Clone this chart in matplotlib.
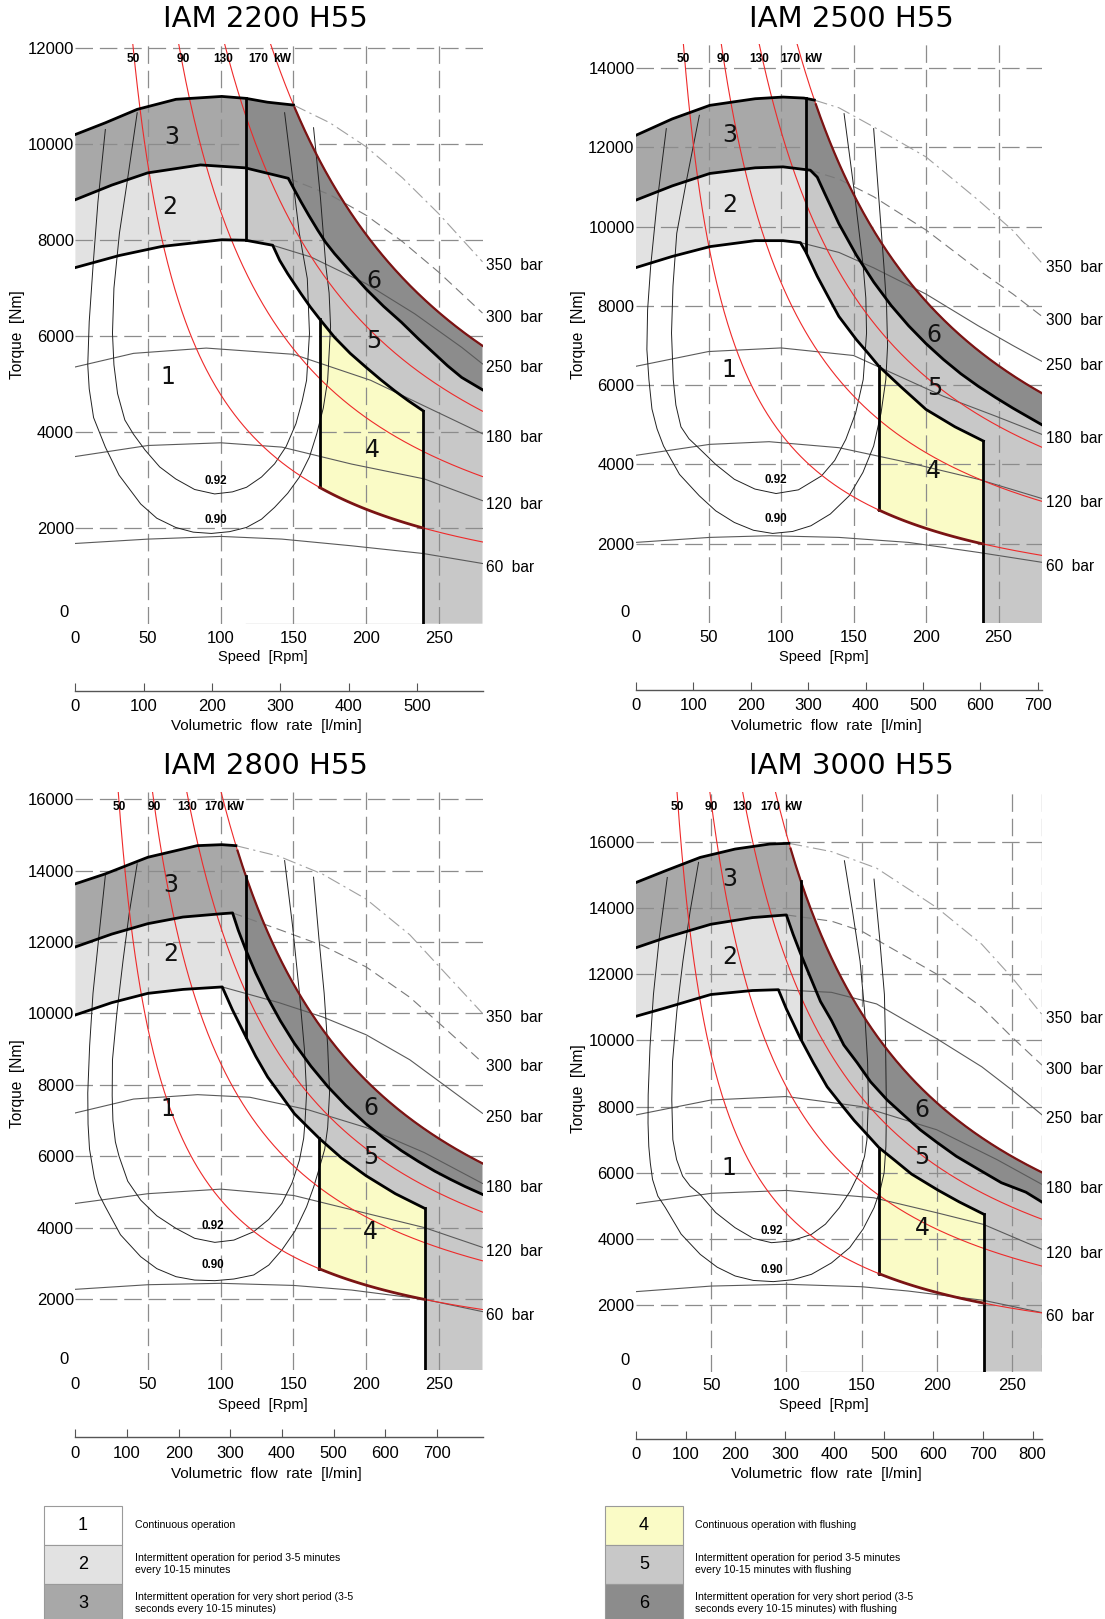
import numpy as np
import matplotlib
matplotlib.use("Agg")
import matplotlib.pyplot as plt
from matplotlib.patches import Polygon, Rectangle

# ---------------- chart data (speed in rpm, torque in Nm) ----------------
MODELS = ["IAM 2200 H55", "IAM 2500 H55", "IAM 2800 H55", "IAM 3000 H55"]
SPEED_MAX = [280, 280, 280, 270]
TORQUE_MAX = [12100, 14600, 16200, 17500]
TORQUE_TICKS = [[2000, 4000, 6000, 8000, 10000, 12000],
                [2000, 4000, 6000, 8000, 10000, 12000, 14000],
                [2000, 4000, 6000, 8000, 10000, 12000, 14000, 16000],
                [2000, 4000, 6000, 8000, 10000, 12000, 14000, 16000]]
SPEED_TICKS = [0, 50, 100, 150, 200, 250]
FLOW_PER_REV = [2.127, 2.527, 2.816, 3.033]
FLOW_TICKS = [[0, 100, 200, 300, 400, 500],
              [0, 100, 200, 300, 400, 500, 600, 700],
              [0, 100, 200, 300, 400, 500, 600, 700],
              [0, 100, 200, 300, 400, 500, 600, 700, 800]]
POWER_KW = [50, 90, 130, 170]
PRESSURES = [350, 300, 250, 180, 120, 60]

SPLIT_RPM = [117.2, 117.0, 117.3, 109.5]   # border 2|3 against 5|6
FLUSH_RPM = [167.9, 167.5, 167.7, 161.6]   # left edge of area 4
LIMIT_RPM = [239.2, 239.6, 240.3, 231.5]   # right edge of area 4

# IAM 2200 H55
CONT_2200 = [(0, 7430), (30, 7680), (59.4, 7870), (100.7, 8010), (117, 8000), (135.7, 7895),
             (140.5, 7580), (146, 7302), (155.2, 6883), (161.5, 6610), (167.9, 6360), (178.2, 5975),
             (189, 5640), (200, 5347), (210, 5090), (219.6, 4859), (229, 4650), (239.2, 4440)]
INT_2200 = [(0, 8846), (25, 9150), (49.7, 9405), (86, 9571), (116.8, 9510), (146.4, 9292),
            (150.5, 9060), (155.2, 8800), (160.5, 8520), (166.7, 8209), (172, 7960), (178.2, 7721),
            (189, 7350), (200, 6980), (212, 6620), (224.2, 6290), (236, 5940), (247.2, 5627),
            (256, 5380), (265.7, 5137), (280, 4880)]
PEAK_2200 = [(0, 10206), (20.6, 10450), (42.5, 10730), (69.2, 10940), (100.7, 11000),
             (117.2, 10960), (132, 10880), (150, 10820)]
BAR_2200 = {
    350: [(150, 10820), (175, 10450), (200, 9950), (225, 9300), (250, 8550), (280, 7550)],
    300: [(146.4, 9292), (175, 8950), (200, 8520), (225, 7970), (250, 7330), (280, 6480)],
    250: [(135.7, 7895), (162, 7650), (200, 7093), (233.4, 6465), (265.7, 5765), (280, 5420)],
    180: [(0, 5357), (40, 5640), (90, 5750), (150, 5620), (203, 5079), (239, 4556), (280, 3963)],
    120: [(0, 3488), (50, 3718), (100, 3774), (142, 3684), (190, 3330), (240, 3020), (280, 2567)],
    60: [(0, 1674), (50, 1765), (100, 1821), (142, 1765), (190, 1625), (239, 1465), (280, 1256)],
}
EFF92_2200 = [(42.5, 10660), (36, 9300), (30.3, 8150), (26.5, 7000), (25.5, 6060), (26.5, 5400),
              (29, 4800), (34, 4250), (40, 3950), (48, 3620), (58, 3270), (69, 3020), (82, 2800),
              (95.8, 2707), (108, 2750), (117.7, 2846), (128, 3060), (137, 3335), (145, 3700),
              (151.7, 4172), (156, 4650), (159, 5078), (161, 6056), (159.5, 7200), (154, 8149),
              (149, 9400), (143.9, 10660)]
EFF90_2200 = [(20.6, 10310), (15.5, 8800), (12.1, 7450), (9.5, 6300), (8.5, 5400), (9.5, 4900),
              (12.5, 4300), (20.6, 3683), (30, 3100), (44.9, 2498), (56, 2200), (69, 2008),
              (81, 1910), (93.5, 1883), (106, 1920), (117.7, 2008), (128, 2180), (137, 2427),
              (146, 2720), (154, 3055), (161, 3480), (166, 3963), (170.5, 4500), (173.5, 5078),
              (175.5, 6200), (174.5, 6900), (172.3, 7450), (168.5, 8900), (163.8, 10347)]

# IAM 2500 H55
CONT_2500 = [(0, 8969), (25, 9250), (50.9, 9497), (82.2, 9648), (101.4, 9648), (113.4, 9598),
             (117, 9371), (125, 8750), (132, 8270), (139.9, 7736), (152, 7150), (160, 6810),
             (167.5, 6478), (183, 5950), (200, 5389), (220, 4950), (239.6, 4591)]
INT_2500 = [(0, 10672), (25, 11030), (50.9, 11343), (82.2, 11486), (101.4, 11510), (120.2, 11426),
            (125, 11250), (130, 10850), (140, 10070), (152, 9280), (164, 8600), (176, 8010),
            (188, 7500), (200, 7050), (212, 6650), (224, 6290), (236, 5975), (248, 5690),
            (260, 5420), (270, 5210), (280, 5000)]
PEAK_2500 = [(0, 12307), (25, 12720), (50.9, 13062), (82.2, 13229), (101.4, 13271),
             (115.8, 13246), (123, 13195)]
BAR_2500 = {
    350: [(123, 13195), (140, 13000), (164, 12516), (200, 11761), (236, 10672), (260, 9900), (280, 9079)],
    300: [(120.2, 11426), (140, 11200), (164, 10755), (200, 9917), (236, 8911), (260, 8300), (280, 7736)],
    250: [(113.4, 9598), (140, 9350), (164, 8960), (200, 8300), (236, 7500), (260, 7000), (280, 6600)],
    180: [(0, 6478), (50, 6850), (100, 6941), (150, 6750), (212, 5720), (248, 5220), (280, 4759)],
    120: [(0, 4231), (50.9, 4508), (91.8, 4575), (139.9, 4424), (187.9, 4047), (236, 3627), (280, 3141)],
    60: [(0, 2034), (50.9, 2160), (91.8, 2202), (139.9, 2160), (187.9, 2034), (236, 1782), (280, 1531)],
}
EFF92_2500 = [(43.7, 12811), (35, 11200), (28.1, 9834), (25.5, 8500), (24.5, 7317), (25.7, 6143),
              (27.5, 5500), (31, 4950), (36.5, 4650), (43.7, 4400), (55, 4000), (67.8, 3627),
              (82, 3380), (96.6, 3267), (112, 3360), (127.9, 3711), (137, 4100), (144.7, 4633),
              (151.5, 5300), (156.7, 6143), (159, 7317), (158.5, 8200), (156.7, 8994),
              (150.5, 10900), (143.5, 12853)]
EFF90_2500 = [(20.9, 12475), (14.5, 10600), (10.1, 8994), (8, 7900), (7.5, 6900), (8.9, 6143),
              (11, 5400), (14.5, 4900), (19, 4466), (30, 3750), (43.7, 3208), (55, 2830),
              (67.8, 2537), (81, 2340), (94.2, 2260), (108, 2310), (120.6, 2453), (134, 2750),
              (147, 3208), (156.5, 3800), (163.9, 4466), (169, 5300), (172.3, 6143), (173.5, 7000),
              (172.8, 8000), (171, 8994), (167.5, 10700), (163.9, 12475)]

# IAM 2800 H55
CONT_2800 = [(0, 9955), (25, 10300), (49.8, 10560), (74, 10671), (101, 10740), (108, 10100),
             (117.3, 9340), (124, 8800), (132.2, 8219), (141, 7730), (150.6, 7192), (159, 6850),
             (167.9, 6492), (183, 5950), (200, 5450), (220, 4950), (240.3, 4537)]
INT_2800 = [(0, 11861), (25, 12220), (49.8, 12512), (74, 12698), (100.7, 12791), (108.1, 12813),
            (112, 12330), (117.3, 11768), (124, 11130), (132.2, 10440), (141, 9790), (150.6, 9160),
            (162, 8520), (173.7, 7945), (186, 7420), (200, 6900), (212, 6510), (224.2, 6155),
            (236, 5850), (247.2, 5580), (258, 5350), (268, 5150), (280, 4930)]
PEAK_2800 = [(0, 13628), (20.6, 13907), (49.8, 14372), (83.7, 14697), (100.7, 14725), (110.4, 14697)]
BAR_2800 = {
    350: [(110.4, 14697), (140, 14400), (170, 13900), (200, 13200), (230, 12200), (255, 11100), (280, 10000)],
    300: [(108.1, 12813), (140, 12350), (170, 11900), (200, 11300), (230, 10450), (255, 9550), (280, 8620)],
    250: [(101, 10740), (140, 10300), (170, 9900), (200, 9400), (230, 8700), (255, 7950), (280, 7200)],
    180: [(0, 7212), (40, 7600), (84, 7723), (120, 7650), (160, 7300), (200, 6800), (240, 6100), (280, 5236)],
    120: [(0, 4676), (50, 4950), (100, 5077), (150, 4900), (190, 4500), (240, 4000), (280, 3446)],
    60: [(0, 2271), (50, 2400), (100, 2439), (150, 2380), (190, 2250), (240, 1990), (280, 1646)],
}
EFF92_2800 = [(42.5, 14190), (37, 12800), (32.8, 11490), (28.5, 10000), (25.5, 8700), (25.3, 7700),
              (25.8, 7000), (27.5, 6400), (30, 6000), (36, 5300), (44.9, 4770), (56, 4330),
              (69.2, 3977), (82, 3700), (95.9, 3586), (109, 3650), (122.6, 3884), (133, 4230),
              (142, 4677), (149, 5250), (154.1, 5889), (157, 6500), (158, 7000), (159, 7770),
              (157.5, 9000), (154.1, 10559), (149.5, 12400), (143.9, 14279)]
EFF90_2800 = [(20.6, 13860), (16, 12100), (12.1, 10560), (9.8, 9100), (8.5, 7770), (8.7, 6900),
              (9.7, 6200), (13, 5400), (16, 4950), (20.6, 4583), (31, 3800), (44.9, 3185),
              (56, 2850), (69.2, 2625), (82, 2530), (95.9, 2513), (109, 2560), (122.6, 2672),
              (133, 2950), (142, 3371), (151, 3900), (159, 4583), (164, 5150), (168, 5700),
              (171.5, 6200), (173.5, 6800), (174.8, 7770), (173.5, 9100), (171.1, 10560),
              (167.5, 12100), (163.8, 13814)]

# IAM 3000 H55
CONT_3000 = [(0, 10727), (19.6, 10980), (49.7, 11384), (77.4, 11505), (94.7, 11530), (100, 10950),
             (109.3, 10061), (118, 9320), (127.1, 8600), (136, 8090), (145.1, 7580), (153, 7190),
             (161.6, 6760), (172, 6380), (183.3, 5960), (200.9, 5475), (215, 5120), (231.5, 4744)]
INT_3000 = [(0, 12798), (19.6, 13101), (49.7, 13505), (77.4, 13707), (100, 13788), (104.5, 13200),
            (109.3, 12636), (116, 11900), (122.7, 11172), (130, 10600), (138.2, 9859), (147, 9330),
            (156, 8748), (167, 8200), (178.2, 7738), (189, 7300), (199.8, 6930), (213, 6500),
            (227.1, 6122), (243, 5700), (259.3, 5415), (270, 5116)]
PEAK_3000 = [(0, 14767), (19.6, 15121), (42.7, 15525), (65.9, 15777), (89, 15929), (101.7, 15950)]
BAR_3000 = {
    350: [(101.7, 15950), (130, 15700), (160, 15200), (200, 14010), (230, 12900), (250, 11900), (270, 10780)],
    300: [(100, 13788), (130, 13600), (150, 13300), (200, 12000), (230, 11000), (250, 10100), (270, 9250)],
    250: [(94.7, 11530), (130, 11450), (160, 11100), (200, 10050), (230, 9200), (250, 8500), (270, 7750)],
    180: [(0, 7748), (50, 8200), (100, 8304), (150, 8000), (200, 7300), (240, 6400), (270, 5650)],
    120: [(0, 5066), (50, 5380), (100, 5468), (158, 5247), (200, 4794), (231, 4443), (270, 3689)],
    60: [(0, 2412), (50, 2580), (100, 2634), (150, 2560), (181, 2430), (231, 2150), (270, 1779)],
}
EFF92_3000 = [(41.6, 15374), (36, 13900), (31.2, 12394), (27.2, 10900), (24.3, 9364), (23.8, 8200),
              (24.5, 7000), (27, 6400), (31, 5900), (36, 5600), (42.7, 5347), (53, 4800),
              (65.9, 4342), (78, 4020), (90.1, 3890), (103, 3940), (116.7, 4141), (126, 4450),
              (135.2, 4945), (142.5, 5450), (149, 6050), (152, 6500), (153.6, 7000), (154.5, 8200),
              (154, 9364), (152, 10900), (149, 12394), (144, 13900), (138.6, 15424)]
EFF90_3000 = [(20.8, 14919), (15.5, 13100), (11.6, 11384), (9.3, 9800), (8.1, 8354), (8, 7500),
              (8.5, 6800), (9.5, 6300), (11, 5800), (14.5, 5300), (19.6, 4945), (30, 4150),
              (42.7, 3538), (54, 3150), (65.9, 2885), (78, 2750), (91.3, 2714), (104, 2770),
              (116.7, 2935), (130, 3280), (142.1, 3739), (151, 4300), (158.3, 4945), (162.5, 5500),
              (165, 6000), (166.2, 6800), (166.4, 7500), (166.4, 8354), (166, 9800), (165.2, 11384),
              (162, 13100), (158.3, 14869)]

LEGEND_LEFT = [("1", "Continuous operation"),
               ("2", "Intermittent operation for period 3-5 minutes\nevery 10-15 minutes"),
               ("3", "Intermittent operation for very short period (3-5\nseconds every 10-15 minutes)")]
LEGEND_RIGHT = [("4", "Continuous operation with flushing"),
                ("5", "Intermittent operation for period 3-5 minutes\nevery 10-15 minutes with flushing"),
                ("6", "Intermittent operation for very short period (3-5\nseconds every 10-15 minutes) with flushing")]

# ---------------- layout (figure pixels) ----------------
W, H = 1105, 1619
AX_BOX = [(75.4, 43.7, 482.5, 623.7), (636, 44.4, 1042, 623),
          (75.4, 792, 482.5, 1370.4), (636, 792, 1042, 1371.5)]
TITLE_XY = [(265, 19), (851, 19), (265, 766), (851, 766)]
TORQUE_LABEL_XY = [(17.5, 335), (579, 335), (17.5, 1084), (578, 1089)]
SPEED_LABEL_XY = [(263, 657), (824, 657), (263, 1404.5), (824, 1404.5)]
FLOW_LABEL_XY = [(266, 726), (826, 726), (266, 1473.6), (826, 1473.6)]
KW_LABEL_RPM = [[39.6, 74, 101.5, 126, 142], [32.8, 59.9, 84.8, 106.2, 121.9],
                [30.5, 54, 76.7, 95.2, 110.1], [27.5, 50.3, 70.9, 89.5, 104.6]]
EFF_LABEL_POS = [(96.6, 2985, 2167), (96.3, 3604, 2615), (94.4, 4053, 2955), (90, 4236, 3052)]
AREA_LABEL_POS = [
    {"3": (66, 10150), "2": (64.6, 8686), "1": (63.9, 5156), "6": (205, 7158), "5": (205, 5890), "4": (204.5, 3630)},
    {"3": (64.9, 12307), "2": (64.9, 10536), "1": (64.2, 6392), "6": (205.2, 7278), "5": (205.9, 5923), "4": (205.2, 3839)},
    {"3": (65.3, 13600), "2": (65.3, 11661), "1": (63.9, 7322), "6": (203, 7353), "5": (203, 5963), "4": (203, 3880)},
    {"3": (62.6, 14876), "2": (62.6, 12505), "1": (61.9, 6139), "6": (190.3, 7888), "5": (190.3, 6483), "4": (190.3, 4329)},
]
EDGE_GRID = [False, False, False, True]

AREA_COLORS = {"1": "white", "2": "#e2e2e2", "3": "#a8a8a8", "4": "#fafbc6", "5": "#c8c8c8", "6": "#8c8c8c"}
RED = "#ee2a2a"
DARKRED = "#7a1414"
GRID = "#8c8c8c"
BAR_STYLE = {350: ("#a0a0a0", (0, (12, 4, 2, 4))), 300: ("#7a7a7a", (0, (9, 5))),
             250: ("#5a5a5a", "-"), 180: ("#5a5a5a", "-"), 120: ("#5a5a5a", "-"), 60: ("#5a5a5a", "-")}

# the drawing uses a narrow technical lettering: Liberation Sans is the closest installed face
TXT_FONT = "Liberation Sans"


def tf(size, **kw):
    d = dict(fontfamily=TXT_FONT, fontsize=size)
    d.update(kw)
    return d


PANELS = [
    dict(cont=CONT_2200, inter=INT_2200, peak=PEAK_2200, bars=BAR_2200, e92=EFF92_2200, e90=EFF90_2200),
    dict(cont=CONT_2500, inter=INT_2500, peak=PEAK_2500, bars=BAR_2500, e92=EFF92_2500, e90=EFF90_2500),
    dict(cont=CONT_2800, inter=INT_2800, peak=PEAK_2800, bars=BAR_2800, e92=EFF92_2800, e90=EFF90_2800),
    dict(cont=CONT_3000, inter=INT_3000, peak=PEAK_3000, bars=BAR_3000, e92=EFF92_3000, e90=EFF90_3000),
]


def torque_at_power(kw, rpm):
    return kw * 60000.0 / (2 * np.pi * rpm)


def xy(points):
    a = np.asarray(points, float)
    return a[:, 0], a[:, 1]


def clip(x, y, a, b):
    m = (x > a) & (x < b)
    return (np.r_[a, x[m], b], np.r_[np.interp(a, x, y), y[m], np.interp(b, x, y)])


def band(ax, upper, lower, a, b, color, z):
    xu, yu = clip(upper[0], upper[1], a, b)
    xl, yl = clip(lower[0], lower[1], a, b)
    verts = np.r_[np.c_[xu, yu], np.c_[xl, yl][::-1]]
    ax.add_patch(Polygon(verts, closed=True, facecolor=color, edgecolor="none", zorder=z))


def px(x, y):
    return x / W, 1 - y / H


fig = plt.figure(figsize=(W / 100, H / 100), dpi=100)

for i, p in enumerate(PANELS):
    l, t, r, b = AX_BOX[i]
    ax = fig.add_axes([l / W, 1 - b / H, (r - l) / W, (b - t) / H])
    xmax, ytop = SPEED_MAX[i], TORQUE_MAX[i]
    ax.set_xlim(0, xmax)
    ax.set_ylim(0, ytop)
    for s in ax.spines.values():
        s.set_visible(False)

    b1 = xy(p["cont"])
    b2 = xy(p["inter"])
    px3, py3 = xy(p["peak"])
    n_peak = np.linspace(px3[-1], xmax, 150)[1:]
    b3 = (np.r_[px3, n_peak], np.r_[py3, torque_at_power(POWER_KW[-1], n_peak)])
    xv, x4, xr = SPLIT_RPM[i], FLUSH_RPM[i], LIMIT_RPM[i]
    n_flush = np.linspace(x4, xr, 80)
    low4 = (n_flush, torque_at_power(POWER_KW[0], n_flush))
    zero = (np.array([0.0, xmax]), np.zeros(2))

    # areas
    band(ax, b2, zero, xv, xmax, AREA_COLORS["5"], 1.0)
    band(ax, b1, zero, 0, xr, AREA_COLORS["1"], 1.1)
    band(ax, b1, low4, x4, xr, AREA_COLORS["4"], 1.2)
    band(ax, b2, b1, 0, xv, AREA_COLORS["2"], 1.2)
    band(ax, b3, b2, 0, xv, AREA_COLORS["3"], 1.2)
    band(ax, b3, b2, xv, xmax, AREA_COLORS["6"], 1.2)

    # grid
    dash = (0, (14, 5.5))
    for x in SPEED_TICKS[1:]:
        ax.axvline(x, color=GRID, lw=0.9, ls=dash, zorder=2)
    if EDGE_GRID[i]:
        ax.axvline(xmax, color=GRID, lw=0.9, ls=dash, zorder=2)
    for y in TORQUE_TICKS[i]:
        ax.axhline(y, color=GRID, lw=0.9, ls=dash, zorder=2)

    # pressure lines
    for bar in PRESSURES:
        bx, by = xy(p["bars"][bar])
        col, ls = BAR_STYLE[bar]
        ax.plot(bx, by, color=col, ls=ls, lw=0.8, zorder=3)
        ax.annotate(f"{bar}  bar", xy=(bx[-1], by[-1]), xytext=(4, -4), textcoords="offset pixels",
                    ha="left", va="center", annotation_clip=False, **tf(11.2))

    # efficiency curves
    for key, lab, ly in (("e92", "0.92", EFF_LABEL_POS[i][1]), ("e90", "0.90", EFF_LABEL_POS[i][2])):
        ex, ey = xy(p[key])
        ax.plot(ex, ey, color="#222222", lw=0.7, zorder=3)
        ax.text(EFF_LABEL_POS[i][0], ly, lab, ha="center", va="center", zorder=6,
                **tf(8.4, fontweight="bold"))

    # constant power curves
    for kw in POWER_KW:
        n = np.linspace(kw * 60000.0 / (2 * np.pi * ytop), xmax, 300)
        ax.plot(n, torque_at_power(kw, n), color=RED, lw=0.8, zorder=3.5)
    for kw, xr_lab in zip(POWER_KW + ["kW"], KW_LABEL_RPM[i]):
        ax.annotate(str(kw), xy=(xr_lab, 1), xycoords=("data", "axes fraction"), xytext=(0, -15),
                    textcoords="offset pixels", ha="center", va="center", zorder=6,
                    **tf(8.6, fontweight="bold"))

    # boundaries
    lw = 2.0
    ax.plot(*b1, color="black", lw=lw, zorder=5)
    ax.plot([xr, xr], [0, b1[1][-1]], color="black", lw=lw, zorder=5)
    ax.plot(*b2, color="black", lw=lw, zorder=5)
    ax.plot(px3, py3, color="black", lw=lw, zorder=5)
    ax.plot(n_peak, torque_at_power(POWER_KW[-1], n_peak), color=DARKRED, lw=1.6, zorder=5)
    ax.plot([xv, xv], [np.interp(xv, *b1), np.interp(xv, *b3)], color="black", lw=lw, zorder=5)
    ax.plot([x4, x4], [low4[1][0], np.interp(x4, *b1)], color="black", lw=lw, zorder=5)
    ax.plot(*low4, color=DARKRED, lw=2.0, zorder=5)

    for key, (ax_x, ax_y) in AREA_LABEL_POS[i].items():
        ax.text(ax_x, ax_y, key, ha="center", va="center", fontsize=17, color="#111111", zorder=6)

    # ticks
    ax.set_xticks(SPEED_TICKS)
    ax.set_xticklabels([str(v) for v in SPEED_TICKS], **tf(12))
    ax.set_yticks(TORQUE_TICKS[i])
    ax.set_yticklabels([str(v) for v in TORQUE_TICKS[i]], **tf(12))
    ax.tick_params(axis="x", length=0, pad=5)
    ax.tick_params(axis="y", length=0, pad=1)
    ax.annotate("0", xy=(0, 0), xycoords=("axes fraction", "data"), xytext=(-11, 11),
                textcoords="offset pixels", ha="center", va="center", annotation_clip=False,
                **tf(12))

    # flow-rate axis
    k = FLOW_PER_REV[i]
    sec = ax.secondary_xaxis(-0.116, functions=(lambda n, k=k: n * k, lambda q, k=k: q / k))
    sec.set_xticks(FLOW_TICKS[i])
    sec.set_xticklabels([str(v) for v in FLOW_TICKS[i]], **tf(12))
    sec.tick_params(direction="in", length=6, width=0.8, color="#555555", pad=6)
    sec.spines["bottom"].set_color("#555555")
    sec.spines["bottom"].set_linewidth(1.0)

    fig.text(*px(*TITLE_XY[i]), MODELS[i], ha="center", va="center", fontsize=21)
    fig.text(*px(*TORQUE_LABEL_XY[i]), "Torque  [Nm]", rotation=90, ha="center", va="center", **tf(11.2))
    fig.text(*px(*SPEED_LABEL_XY[i]), "Speed  [Rpm]", ha="center", va="center", **tf(10.5))
    fig.text(*px(*FLOW_LABEL_XY[i]), "Volumetric  flow  rate  [l/min]", ha="center", va="center", **tf(11))

# ---------------- legend ----------------
lax = fig.add_axes([0, 0, 1, 1])
lax.set_xlim(0, W)
lax.set_ylim(H, 0)
lax.axis("off")
lax.patch.set_visible(False)
rows = [1505.5, 1544.5, 1583.5]
row_h = 39
for items, bx0, tx in ((LEGEND_LEFT, 44, 135), (LEGEND_RIGHT, 605, 695)):
    for (num, txt), y0 in zip(items, rows):
        lax.add_patch(Rectangle((bx0, y0), 78, row_h, facecolor=AREA_COLORS[num],
                                edgecolor="#9a9a9a", lw=0.8))
        lax.text(bx0 + 39, y0 + row_h / 2, num, ha="center", va="center", **tf(13))
        lax.text(tx, y0 + row_h / 2, txt, ha="left", va="center", linespacing=1.3, **tf(7.6))

fig.savefig("out.png", dpi=100)
